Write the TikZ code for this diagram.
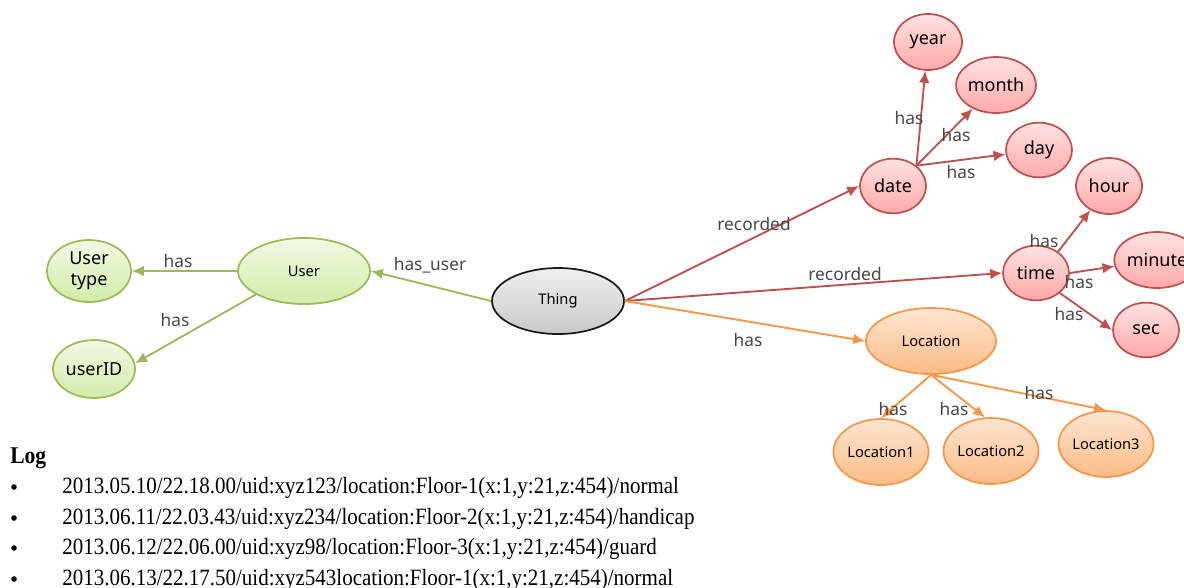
\documentclass[tikz,border=0pt]{standalone}
\usepackage{fontspec}
\setmainfont{Noto Sans}
\newfontfamily\logfont{Liberation Serif}[FakeStretch=0.9]
\usetikzlibrary{shapes.geometric,arrows.meta}
\definecolor{grnline}{HTML}{9BBB59}
\definecolor{grntop}{HTML}{F2F9E4}
\definecolor{grnbot}{HTML}{D3EBA8}
\definecolor{redline}{HTML}{C0504D}
\definecolor{redtop}{HTML}{FFE2E2}
\definecolor{redbot}{HTML}{FFA9A9}
\definecolor{orgline}{HTML}{F79646}
\definecolor{orgtop}{HTML}{FDE6D2}
\definecolor{orgbot}{HTML}{FBBB84}
\definecolor{gryline}{HTML}{1A1A1A}
\definecolor{grytop}{HTML}{EFEFEF}
\definecolor{grybot}{HTML}{C9C9C9}
\begin{document}
\begin{tikzpicture}[x=0.75pt,y=-0.75pt,
  blob/.style={ellipse, inner sep=0pt, line width=1.3pt},
  leaf/.style={blob, font=\fontsize{13.5}{16}\selectfont, minimum width=49.5pt, minimum height=41pt},
  big/.style={blob, font=\fontsize{11}{13}\selectfont, minimum width=99pt, minimum height=49.5pt},
  grn/.style={draw=grnline, top color=grntop, bottom color=grnbot},
  rd/.style={draw=redline, top color=redtop, bottom color=redbot},
  org/.style={draw=orgline, top color=orgtop, bottom color=orgbot},
  gry/.style={draw=gryline, top color=grytop, bottom color=grybot},
  link/.style={line width=1.4pt, -{Latex[length=9pt,width=8pt]}},
  glink/.style={link, draw=grnline},
  rlink/.style={link, draw=redline},
  olink/.style={link, draw=orgline},
  lbl/.style={font=\fontsize{13}{15}\selectfont, text=black!72, inner sep=0pt},
  logline/.style={anchor=base west, inner sep=0pt, font=\logfont\fontsize{17.5}{20}\selectfont},
  bullet/.style={circle, fill=black, inner sep=0pt, minimum size=4.2pt}
]
\useasboundingbox (0,0) rectangle (1184,587);
\clip (0,0) rectangle (1184,587);

% user side
\node[leaf, grn, minimum width=63pt, minimum height=46.5pt, align=center] (utype) at (89,271) {User\\type};
\node[leaf, grn, minimum width=61.5pt, minimum height=43.5pt] (uid) at (94,369) {userID};
\node[big, grn] (user) at (304,271) {User};
\node[big, gry] (thing) at (558,301) {Thing};

% date branch
\node[leaf, rd] (date) at (893,186) {date};
\node[leaf, rd, minimum width=51pt, minimum height=42pt] (year) at (928,42) {year};
\node[leaf, rd, minimum height=42pt] (month) at (996,85) {month};
\node[leaf, rd] (day) at (1039,150) {day};

% time branch
\node[leaf, rd] (time) at (1036,273) {time};
\node[leaf, rd, minimum height=42pt] (hour) at (1109,186) {hour};
\node[leaf, rd, minimum height=42pt] (minute) at (1157,260) {minute};
\node[leaf, rd] (sec) at (1146,330) {sec};

% location branch
\node[big, org, minimum width=97.5pt] (loc) at (931,341) {Location};
\node[big, org, minimum width=65pt] (loc1) at (881,452) {Location1};
\node[big, org, minimum width=64pt] (loc2) at (991,451) {Location2};
\node[big, org, minimum width=64pt] (loc3) at (1106,444) {Location3};

% connectors
\draw[glink] (user.west) -- (utype.east);
\draw[glink] (user.206) -- (uid.8);
\draw[glink] (thing.west) -- (user.east);

\draw[rlink] (thing.east) -- (date.west);
\draw[rlink] (thing.east) -- (time.west);
\draw[olink] (thing.east) -- (loc.west);

\draw[rlink] (date.41) -- (year);
\draw[rlink] (date.41) -- (month);
\draw[rlink] (date.41) -- (day);

\draw[rlink] (time.44) -- (hour);
\draw[rlink] (time.east) -- (minute);
\draw[rlink] (time.-40) -- (sec.west);

\draw[olink] (loc.south) -- (loc1.north);
\draw[olink] (loc.south) -- (loc2.100);
\draw[olink] (loc.south) -- (loc3.north);

% connector labels
\node[lbl] (l1) at (178,261) {has};
\node[lbl] (l2) at (175,320) {has};
\node[lbl] (l3) at (430,265) {has\_user};
\node[lbl] (l4) at (754,224) {recorded};
\node[lbl] (l5) at (845,274) {recorded};
\node[lbl] (l6) at (748,340) {has};
\node[lbl] (l7) at (909,118) {has};
\node[lbl] (l8) at (956,135) {has};
\node[lbl] (l9) at (961,172) {has};
\node[lbl] (l10) at (1044,241) {has};
\node[lbl] (l11) at (1079,282) {has};
\node[lbl] (l12) at (1069,314) {has};
\node[lbl] (l13) at (893,409) {has};
\node[lbl] (l14) at (954,409) {has};
\node[lbl] (l15) at (1039,393) {has};

% log listing
\node[anchor=base west, inner sep=0pt, font=\logfont\bfseries\fontsize{18}{20}\selectfont] (logtitle) at (10,463) {Log};
\node[bullet] (b1) at (14,487) {};
\node[bullet] (b2) at (14,518) {};
\node[bullet] (b3) at (14,548) {};
\node[bullet] (b4) at (14,579) {};
\node[logline] (e1) at (62,493) {2013.05.10/22.18.00/uid:xyz123/location:Floor-1(x:1,y:21,z:454)/normal};
\node[logline] (e2) at (62,524) {2013.06.11/22.03.43/uid:xyz234/location:Floor-2(x:1,y:21,z:454)/handicap};
\node[logline] (e3) at (62,554) {2013.06.12/22.06.00/uid:xyz98/location:Floor-3(x:1,y:21,z:454)/guard};
\node[logline] (e4) at (62,585) {2013.06.13/22.17.50/uid:xyz543location:Floor-1(x:1,y:21,z:454)/normal};
\end{tikzpicture}
\end{document}
